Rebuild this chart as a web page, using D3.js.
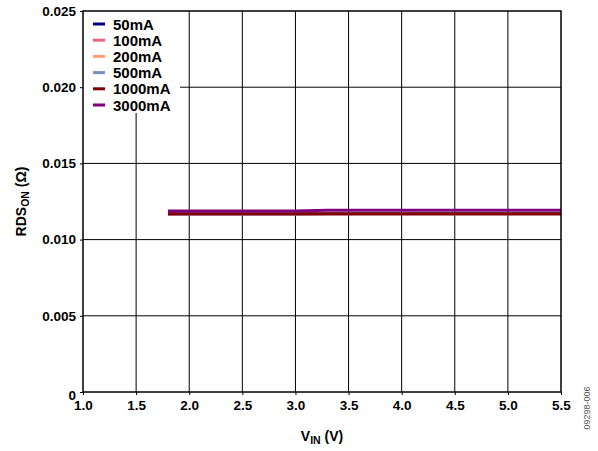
<!DOCTYPE html>
<html>
<head>
<meta charset="utf-8">
<script src="https://cdn.jsdelivr.net/npm/d3@7"></script>
<style>
  body { margin: 0; background: #fff; }
  svg text { font-family: "Liberation Sans", Arial, sans-serif; }
</style>
</head>
<body>
<div id="chart"></div>
<script>
// data
const seriesNames = ["50mA", "100mA", "200mA", "500mA", "1000mA", "3000mA"];
const seriesColors = ["#00007f", "#e8677c", "#ffa070", "#7391c4", "#7f0000", "#800080"];
const vin = [1.8, 2.0, 2.5, 3.0, 3.3, 3.5, 4.0, 4.5, 5.0, 5.5];
const r50 = [0.01168, 0.01168, 0.01168, 0.01168, 0.01169, 0.01169, 0.01169, 0.01169, 0.01169, 0.01169];
const r100 = [0.01168, 0.01168, 0.01168, 0.01168, 0.01169, 0.01169, 0.01169, 0.01169, 0.01169, 0.01169];
const r200 = [0.01169, 0.01169, 0.01169, 0.01169, 0.0117, 0.0117, 0.0117, 0.0117, 0.0117, 0.0117];
const r500 = [0.0117, 0.0117, 0.0117, 0.0117, 0.01171, 0.01171, 0.01171, 0.01171, 0.01171, 0.01171];
const r1000 = [0.0117, 0.0117, 0.0117, 0.0117, 0.0117, 0.0117, 0.0117, 0.0117, 0.0117, 0.0117];
const r3000 = [0.01188, 0.01188, 0.01188, 0.01188, 0.01193, 0.01193, 0.01193, 0.01193, 0.01193, 0.01193];
const allSeries = [r50, r100, r200, r500, r1000, r3000];
const xTicks = [1.0, 1.5, 2.0, 2.5, 3.0, 3.5, 4.0, 4.5, 5.0, 5.5];
const yTicks = [0, 0.005, 0.010, 0.015, 0.020, 0.025];

const W = 598, H = 451;
const margin = {top: 11, right: 37, bottom: 59, left: 83};
const width = W - margin.left - margin.right;
const height = H - margin.top - margin.bottom;

const svg = d3.select("#chart").append("svg")
    .attr("width", W)
    .attr("height", H);

const g = svg.append("g")
    .attr("transform", `translate(${margin.left},${margin.top})`);

const x = d3.scaleLinear().domain([1.0, 5.5]).range([0, width]);
const y = d3.scaleLinear().domain([0, 0.025]).range([height, 0]);

// gridlines
g.append("g")
    .selectAll("line")
    .data(xTicks.slice(1, -1))
    .join("line")
    .attr("x1", d => x(d)).attr("x2", d => x(d))
    .attr("y1", 0).attr("y2", height)
    .attr("stroke", "#000").attr("stroke-width", 1);

g.append("g")
    .selectAll("line")
    .data(yTicks.slice(1, -1))
    .join("line")
    .attr("x1", 0).attr("x2", width)
    .attr("y1", d => y(d)).attr("y2", d => y(d))
    .attr("stroke", "#000").attr("stroke-width", 1);

// axes
const fmtY = d => d === 0 ? "0" : d3.format(".3f")(d);
g.append("g")
    .attr("transform", `translate(0,${height})`)
    .call(d3.axisBottom(x).tickValues(xTicks).tickFormat(d3.format(".1f")).tickSize(3).tickSizeOuter(0))
    .call(a => a.select(".domain").remove())
    .selectAll("text")
    .attr("y", 6)
    .attr("dy", "0.9em")
    .style("font-size", "13.5px")
    .style("font-weight", "bold");

g.append("g")
    .call(d3.axisLeft(y).tickValues(yTicks).tickFormat(fmtY).tickSize(3).tickSizeOuter(0))
    .call(a => a.select(".domain").remove())
    .selectAll("text")
    .attr("x", -7)
    .attr("dy", d => d === 0 ? "0.55em" : "0.32em")
    .style("font-size", "13.5px")
    .style("font-weight", "bold");

// lines
const line = d3.line()
    .x((d, i) => x(vin[i]))
    .y(d => y(d));

allSeries.forEach((s, k) => {
    g.append("path")
        .datum(s)
        .attr("fill", "none")
        .attr("stroke", seriesColors[k])
        .attr("stroke-width", 3)
        .attr("d", line);
});

// legend
const legend = g.append("g");
legend.append("rect")
    .attr("x", 0).attr("y", 0)
    .attr("width", 97).attr("height", 102)
    .attr("fill", "#fff");

seriesNames.forEach((name, i) => {
    const row = legend.append("g")
        .attr("transform", `translate(10, ${13 + i * 16.2})`);
    row.append("line")
        .attr("x1", 0).attr("x2", 12)
        .attr("y1", 0).attr("y2", 0)
        .attr("stroke", seriesColors[i])
        .attr("stroke-width", 3);
    row.append("text")
        .attr("x", 20).attr("y", 5.5)
        .style("font-size", "15px")
        .style("font-weight", "bold")
        .text(name);
});

// plot frame
g.append("rect")
    .attr("width", width).attr("height", height)
    .attr("fill", "none")
    .attr("stroke", "#000")
    .attr("stroke-width", 1.5);

// axis titles
const xt = svg.append("text")
    .attr("x", margin.left + width / 2)
    .attr("y", 441)
    .attr("text-anchor", "middle")
    .style("font-size", "14px")
    .style("font-weight", "bold");
xt.append("tspan").text("V");
xt.append("tspan").attr("dy", 3).style("font-size", "10.5px").text("IN");
xt.append("tspan").attr("dy", -3).text(" (V)");

const yt = svg.append("text")
    .attr("transform", `translate(26, ${margin.top + height / 2}) rotate(-90)`)
    .attr("text-anchor", "middle")
    .style("font-size", "14px")
    .style("font-weight", "bold");
yt.append("tspan").text("RDS");
yt.append("tspan").attr("dy", 3).style("font-size", "10.5px").text("ON");
yt.append("tspan").attr("dy", -3).text(" (Ω)");

// figure code
svg.append("text")
    .attr("transform", "translate(590, 408) rotate(-90)")
    .attr("text-anchor", "middle")
    .style("font-size", "9px")
    .style("fill", "#555")
    .text("09298-006");
</script>
</body>
</html>
